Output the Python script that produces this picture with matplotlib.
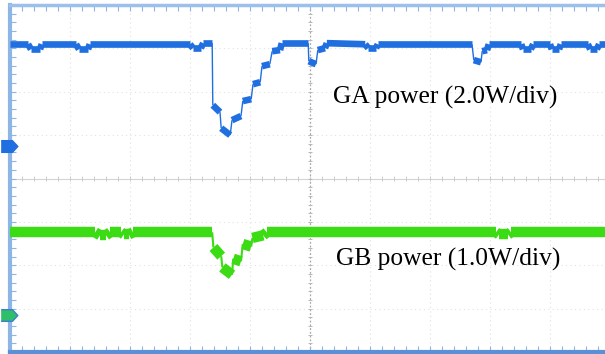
"""Oscilloscope capture: GA / GB power during a load step."""

import matplotlib
matplotlib.use("Agg")
import matplotlib.pyplot as plt
from matplotlib.collections import LineCollection
import numpy as np

# time axis in screen divisions (10 div across)
ga_t = [0.00, 0.30, 0.35, 0.50, 0.53, 1.10, 1.15, 1.30, 1.33, 3.00, 3.05, 3.18,
        3.22, 3.37, 3.38, 3.50, 3.52, 3.67, 3.70, 3.85, 3.88, 4.02, 4.05, 4.17,
        4.20, 4.33, 4.37, 4.50, 4.53, 4.97, 4.98, 5.10, 5.13, 5.25, 5.28, 5.92,
        5.97, 6.10, 6.13, 7.70, 7.73, 7.85, 7.87, 7.95, 7.98, 8.52, 8.55, 8.68,
        8.72, 9.00, 9.03, 9.15, 9.18, 9.63, 9.67, 9.78, 9.82, 10.00]
ga_w = [4.69, 4.69, 4.46, 4.46, 4.69, 4.69, 4.46, 4.46, 4.69, 4.69, 4.51, 4.51,
        4.74, 4.74, 1.88, 1.56, 0.82, 0.50, 1.19, 1.38, 2.07, 2.16, 2.85, 2.94,
        3.68, 3.77, 4.37, 4.42, 4.74, 4.74, 3.91, 3.77, 4.42, 4.51, 4.74, 4.69,
        4.51, 4.51, 4.69, 4.69, 3.96, 3.86, 4.37, 4.42, 4.69, 4.69, 4.46, 4.46,
        4.69, 4.69, 4.46, 4.46, 4.69, 4.69, 4.46, 4.46, 4.69, 4.69]

gb_t = [0.00, 1.42, 1.50, 1.60, 1.67, 1.85, 1.90, 1.98, 2.05, 3.37, 3.39, 3.52,
        3.54, 3.70, 3.72, 3.85, 3.88, 4.02, 4.04, 4.22, 4.28, 8.10, 8.15, 8.30,
        8.35, 10.00]
gb_w = [1.91, 1.91, 1.84, 1.84, 1.91, 1.91, 1.86, 1.86, 1.91, 1.91, 1.56, 1.36,
        1.10, 0.93, 1.30, 1.24, 1.64, 1.58, 1.78, 1.84, 1.91, 1.91, 1.86, 1.86,
        1.91, 1.91]

# channel settings: ground level (div) and scale (W/div)
ga_offset, ga_scale = 4.75, 2.0
gb_offset, gb_scale = 0.85, 1.0

ga_label = "GA power (2.0W/div)"
gb_label = "GB power (1.0W/div)"

blue = "#1f6fe0"
green = "#3cdc14"


def draw_trace(ax, t, y, color, lw_flat, lw_edge):
    """Flat parts drawn as a thick band, fast edges as a thin line."""
    t = np.asarray(t)
    y = np.asarray(y)
    pts = np.column_stack([t, y])
    segs = np.stack([pts[:-1], pts[1:]], axis=1)
    slope = np.abs(np.diff(y)) / np.maximum(np.diff(t), 1e-6)
    widths = np.where(slope > 6, lw_edge, lw_flat)
    lc = LineCollection(segs, colors=color, linewidths=widths,
                        capstyle="butt", joinstyle="miter", zorder=4)
    ax.add_collection(lc)


fig = plt.figure(figsize=(6.05, 3.54), dpi=100)
ax = fig.add_axes([10 / 605, 2 / 354, 600 / 605, 347 / 354])
ax.set_xlim(0, 10)
ax.set_ylim(0, 8)

# graticule
for x in range(1, 10):
    if x == 5:
        continue
    ax.axvline(x, color="#e0e0e0", lw=0.8, ls=(0, (1, 3)), zorder=1)
for y in range(1, 8):
    if y == 4:
        continue
    ax.axhline(y, color="#e2e2e2", lw=0.8, ls=(0, (1, 3)), zorder=1)
ax.axvline(5, color="#a8a8a8", lw=0.9, ls=(0, (1.5, 1.5)), zorder=1)
ax.axhline(4, color="#d4d4d4", lw=0.8, zorder=1)
minor_x = np.arange(0, 10.01, 0.2)
minor_y = np.arange(0, 8.01, 0.2)
ax.vlines(minor_x, 3.95, 4.05, color="#cccccc", lw=0.7, zorder=1)
ax.hlines(minor_y, 4.96, 5.04, color="#b8b8b8", lw=0.7, zorder=1)

# traces
ga_y = np.array(ga_w) / ga_scale + ga_offset
gb_y = np.array(gb_w) / gb_scale + gb_offset
draw_trace(ax, gb_t, gb_y, green, 7.5, 1.5)
draw_trace(ax, ga_t, ga_y, blue, 4.8, 1.0)

# ground markers
tag = [(-1, -0.7), (0.35, -0.7), (1, 0), (0.35, 0.7), (-1, 0.7)]
ax.plot([-0.02], [ga_offset], marker=tag, ms=12, color=blue, clip_on=False, zorder=5)
ax.plot([-0.02], [gb_offset], marker=tag, ms=12, color="#2fbf6a",
        mec="#3a7fd0", clip_on=False, zorder=5)

# labels
ax.text(5.38, 5.88, ga_label, fontsize=18.4, family="Liberation Serif",
        va="center", ha="left")
ax.text(5.43, 2.14, gb_label, fontsize=18.4, family="Liberation Serif",
        va="center", ha="left")

# frame
ax.spines["left"].set_color("#8db6e6")
ax.spines["left"].set_linewidth(3)
ax.spines["top"].set_color("#9cc0ea")
ax.spines["top"].set_linewidth(2.5)
ax.spines["bottom"].set_color("#5b8fd6")
ax.spines["bottom"].set_linewidth(3)
ax.spines["right"].set_visible(False)
ax.set_xticks(minor_x)
ax.set_yticks(minor_y)
ax.tick_params(direction="in", length=4, width=0.8, color="#8db6e6",
               labelbottom=False, labelleft=False, top=True)

fig.savefig("out.png", dpi=100)
